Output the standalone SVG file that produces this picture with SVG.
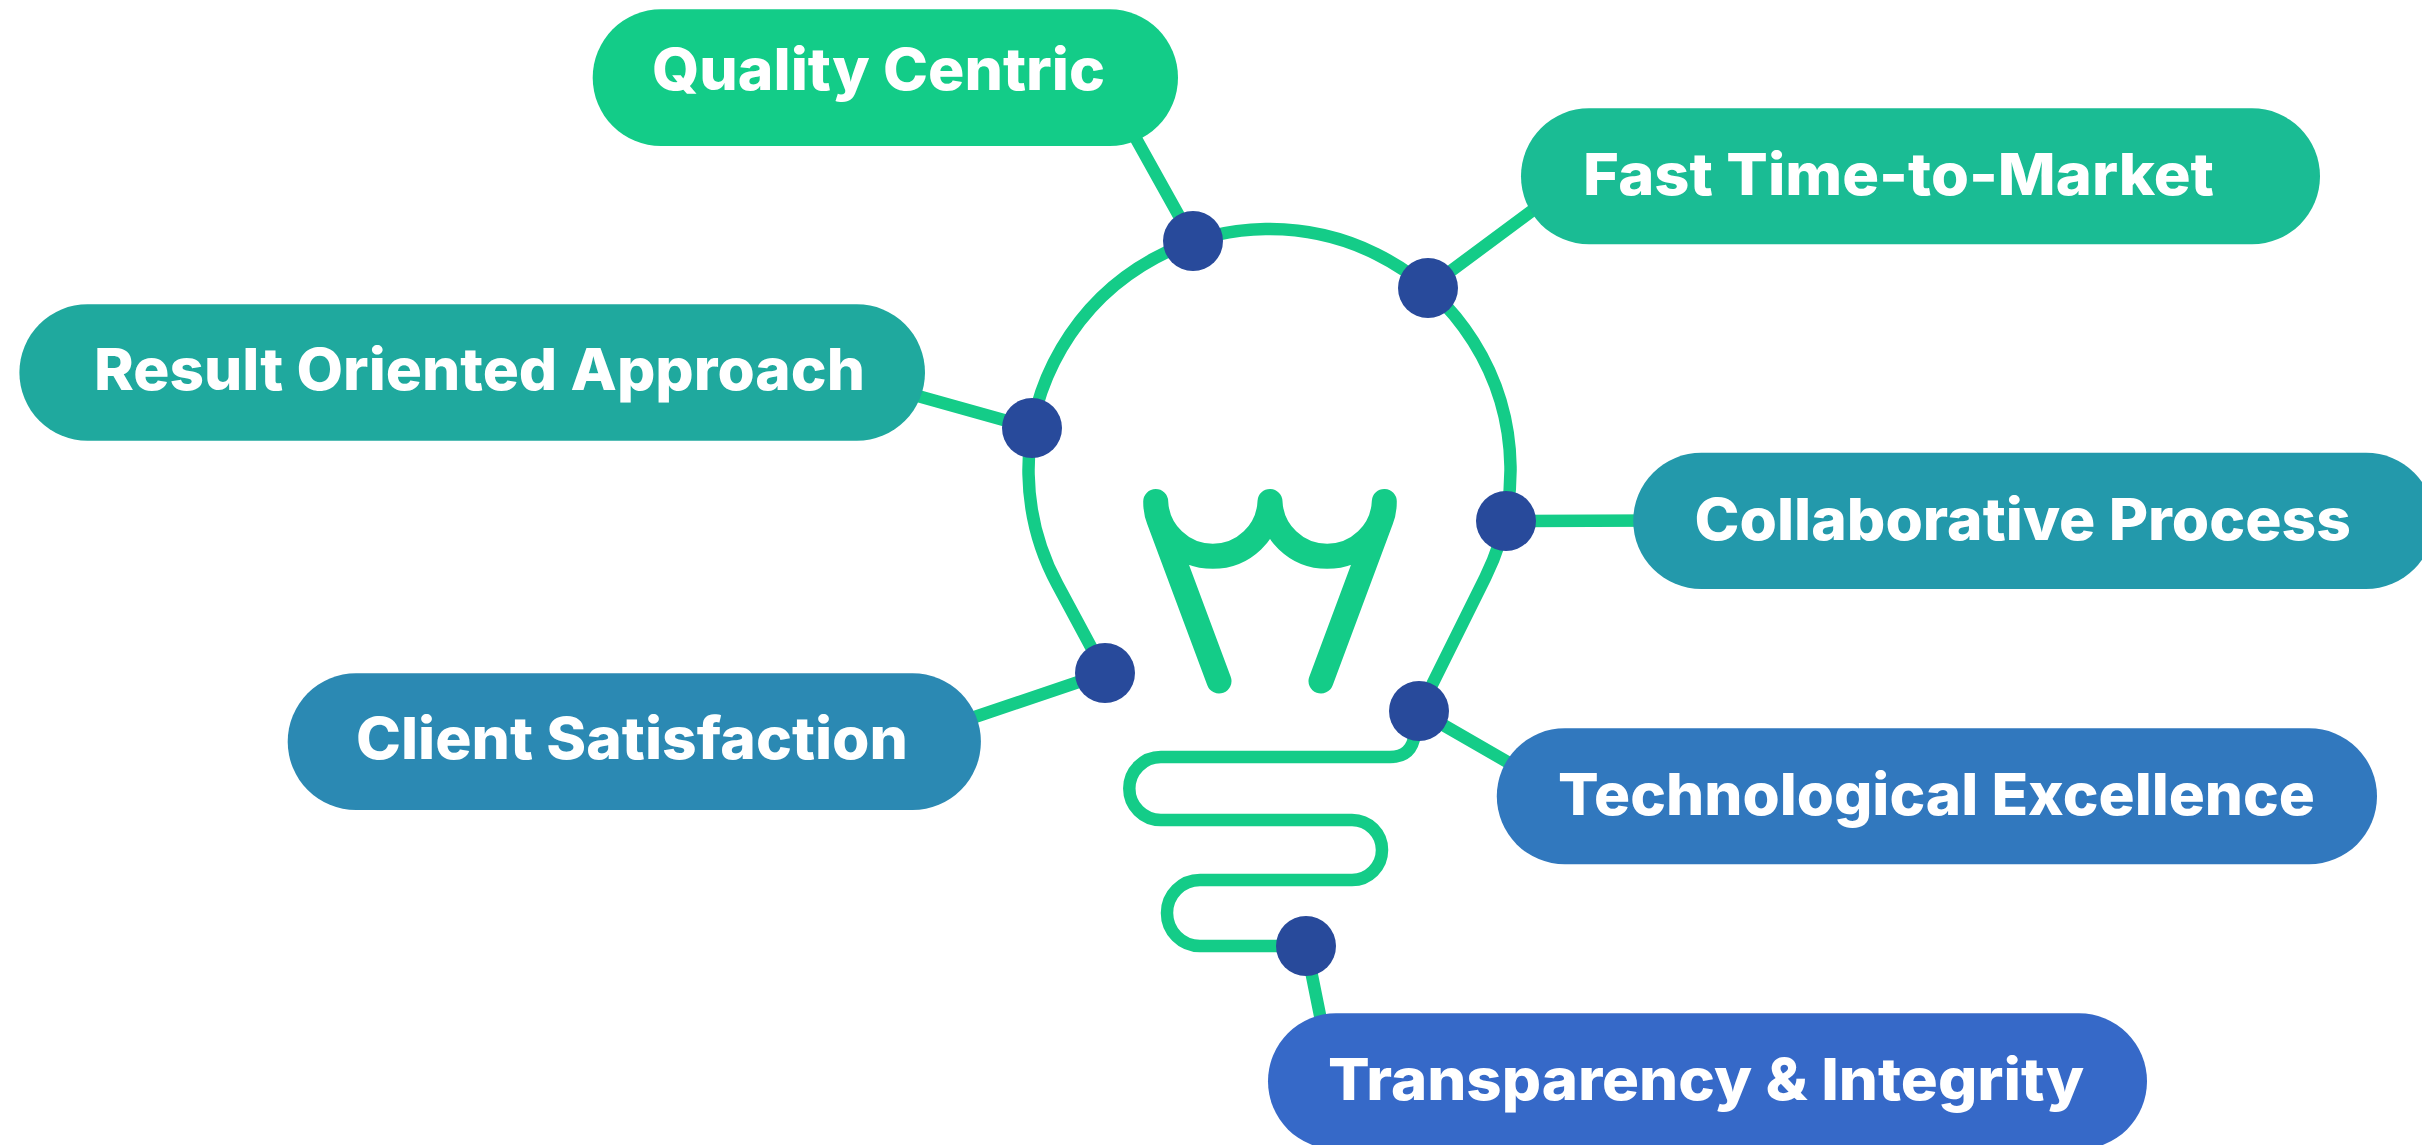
<svg xmlns="http://www.w3.org/2000/svg" width="2422" height="1145" viewBox="0 0 2422 1145">
<style>
.conn{stroke:#14CC88;stroke-width:12.5;fill:none;stroke-linecap:round}
.bulb{stroke:#14CC88;stroke-width:12.5;fill:none;stroke-linejoin:round}
.fil{stroke:#14CC88;stroke-width:25;fill:none;stroke-linecap:round;stroke-linejoin:round}
.dot{fill:#284A9B}
.lbl{font-family:"Inter","Liberation Sans",sans-serif;font-weight:800;font-size:58px;fill:#FFFFFF}
</style>
<rect width="2422" height="1145" fill="#FFFFFF"/>
<g id="connectors">
<line class="conn" x1="1193" y1="241" x2="1120" y2="110"/>
<line class="conn" x1="1428" y1="288" x2="1560" y2="190"/>
<line class="conn" x1="1032" y1="428" x2="900" y2="391"/>
<line class="conn" x1="1506" y1="521" x2="1660" y2="520.5"/>
<line class="conn" x1="1105" y1="673" x2="960" y2="722"/>
<line class="conn" x1="1419" y1="711" x2="1530" y2="775"/>
<line class="conn" x1="1306" y1="946" x2="1325" y2="1040"/>
</g>
<g id="bulb">
<path class="bulb" d="M1105,673 L1057.3,584.3 A241,241 0 1 1 1485.4,577.2 L1419,711 L1415,733 C1413,750 1404,757 1390,757 L1160.8,757 A31.5,31.5 0 0 0 1160.8,820 L1352,820 A30,30 0 0 1 1352,880 L1200,880 A33,33 0 0 0 1200,946 L1306,946"/>
<path class="fil" d="M1219,681 L1159,520 Q1155.7,512 1155.7,501.5 A57.2,57.2 0 0 0 1270,501.5 A57.2,57.2 0 0 0 1384.3,501.5 Q1384.3,512 1381,520 L1321,681"/>
</g>
<g id="node-quality">
<rect x="592.7" y="9.3" width="585.3" height="136.7" rx="68.3" fill="#13CC88"/>
<text class="lbl" x="652" y="90" textLength="453" lengthAdjust="spacingAndGlyphs">Quality Centric</text>
</g>
<g id="node-fast">
<rect x="1521" y="108.3" width="799" height="136" rx="68" fill="#1ABC94"/>
<text class="lbl" x="1583" y="195.3" textLength="631" lengthAdjust="spacingAndGlyphs">Fast Time-to-Market</text>
</g>
<g id="node-result">
<rect x="19.4" y="304.3" width="905.6" height="136.4" rx="68.2" fill="#1FA99E"/>
<text class="lbl" x="94" y="390" textLength="771" lengthAdjust="spacingAndGlyphs">Result Oriented Approach</text>
</g>
<g id="node-collab">
<rect x="1633.2" y="452.7" width="801" height="136.3" rx="68.2" fill="#2399AB"/>
<text class="lbl" x="1694.5" y="540" textLength="656.5" lengthAdjust="spacingAndGlyphs">Collaborative Process</text>
</g>
<g id="node-client">
<rect x="287.7" y="673.3" width="693.2" height="136.7" rx="68.3" fill="#2B89B3"/>
<text class="lbl" x="356" y="759" textLength="552" lengthAdjust="spacingAndGlyphs">Client Satisfaction</text>
</g>
<g id="node-tech">
<rect x="1496.8" y="728.3" width="880.2" height="136" rx="68" fill="#3178BE"/>
<text class="lbl" x="1558" y="815.3" textLength="757" lengthAdjust="spacingAndGlyphs">Technological Excellence</text>
</g>
<g id="node-transparency">
<rect x="1268" y="1013.3" width="879" height="136" rx="68" fill="#3669C8"/>
<text class="lbl" x="1328" y="1100.3" textLength="756" lengthAdjust="spacingAndGlyphs">Transparency &amp; Integrity</text>
</g>
<g id="dots">
<circle class="dot" cx="1193" cy="241" r="30"/>
<circle class="dot" cx="1428" cy="288" r="30"/>
<circle class="dot" cx="1032" cy="428" r="30"/>
<circle class="dot" cx="1506" cy="521" r="30"/>
<circle class="dot" cx="1105" cy="673" r="30"/>
<circle class="dot" cx="1419" cy="711" r="30"/>
<circle class="dot" cx="1306" cy="946" r="30"/>
</g>
</svg>
